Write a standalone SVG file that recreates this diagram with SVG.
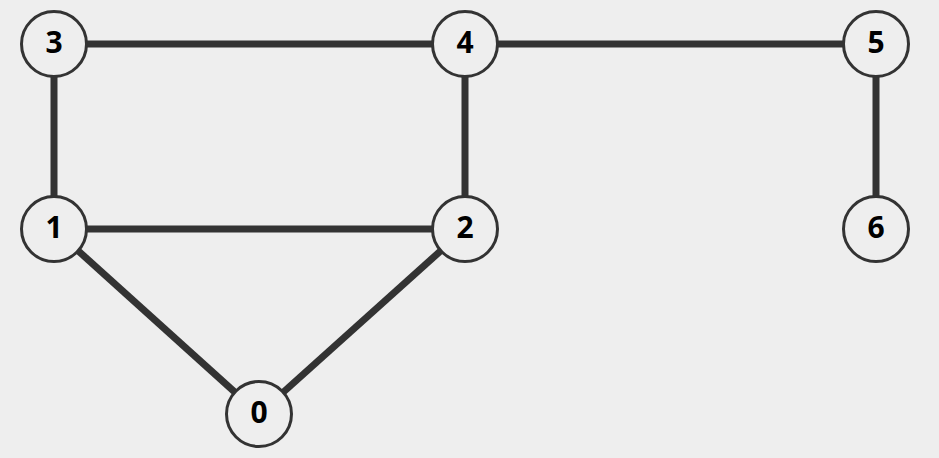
<svg xmlns="http://www.w3.org/2000/svg" width="939" height="458" viewBox="0 0 939 458">
<style>
.e{stroke:#333;stroke-width:7;fill:none}
.n circle{fill:#eeeeee;stroke:#333;stroke-width:3}
.n text{font-family:"Open Sans","DejaVu Sans",sans-serif;font-weight:bold;font-size:30px;fill:#000;text-anchor:middle}
</style>
<rect width="939" height="458" fill="#eeeeee"/>
<g id="edges">
<line class="e" x1="54" y1="44" x2="465" y2="44"/>
<line class="e" x1="465" y1="44" x2="876" y2="44"/>
<line class="e" x1="54" y1="44" x2="54" y2="229"/>
<line class="e" x1="465" y1="44" x2="465" y2="229"/>
<line class="e" x1="876" y1="44" x2="876" y2="229"/>
<line class="e" x1="54" y1="229" x2="465" y2="229"/>
<line class="e" x1="54" y1="229" x2="259" y2="414"/>
<line class="e" x1="465" y1="229" x2="259" y2="414"/>
</g>
<g id="node3" class="n"><circle cx="54" cy="44" r="32.5"/><text x="54" y="53">3</text></g>
<g id="node4" class="n"><circle cx="465" cy="44" r="32.5"/><text x="465" y="53">4</text></g>
<g id="node5" class="n"><circle cx="876" cy="44" r="32.5"/><text x="876" y="53">5</text></g>
<g id="node1" class="n"><circle cx="54" cy="229" r="32.5"/><text x="54" y="238">1</text></g>
<g id="node2" class="n"><circle cx="465" cy="229" r="32.5"/><text x="465" y="238">2</text></g>
<g id="node6" class="n"><circle cx="876" cy="229" r="32.5"/><text x="876" y="238">6</text></g>
<g id="node0" class="n"><circle cx="259" cy="414" r="32.5"/><text x="259" y="423">0</text></g>
</svg>
